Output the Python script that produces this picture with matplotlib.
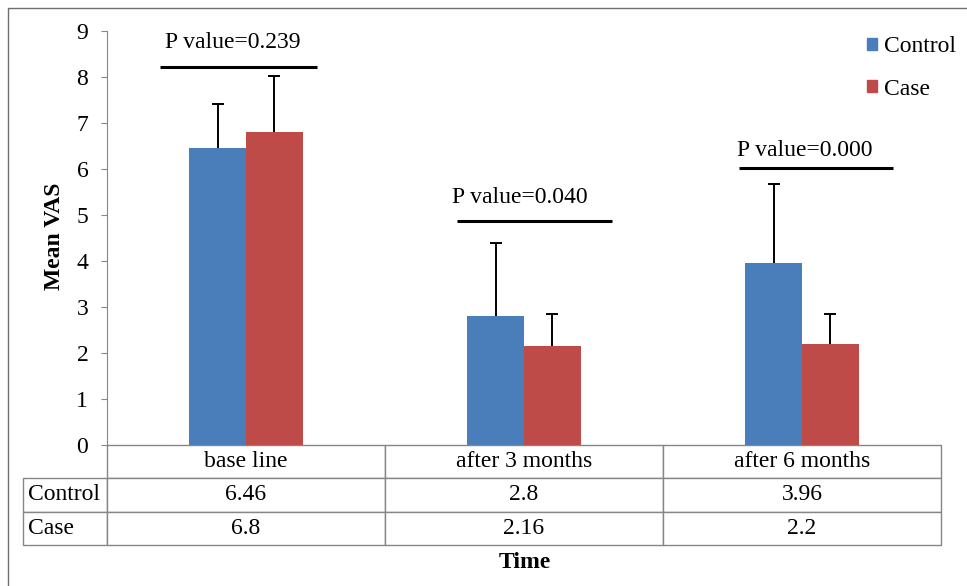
import matplotlib.pyplot as plt
import numpy as np
from matplotlib.table import Table
from matplotlib.patches import Rectangle

# data
categories = ['base line', 'after 3 months', 'after 6 months']
control = [6.46, 2.8, 3.96]
case = [6.8, 2.16, 2.2]
control_err = [0.95, 1.6, 1.71]
case_err = [1.22, 0.69, 0.65]
p_labels = ['P value=0.239', 'P value=0.040', 'P value=0.000']

# annotation placement (data coords): text x, text y, line x0, line x1, line y
p_text_x = [-0.29, 0.741, 1.766]
p_text_y = [8.76, 5.37, 6.41]
p_line_x = [(-0.309, 0.255), (0.759, 1.316), (1.773, 2.327)]
p_line_y = [8.22, 4.87, 6.02]

blue = '#4A7EBB'
red = '#BE4B48'
grid_gray = '#868686'

plt.rcParams['font.family'] = 'Liberation Serif'
fs = 17

fig = plt.figure(figsize=(9.67, 5.86), dpi=100)
ax = fig.add_axes([107 / 967, 1 - 445 / 586, 834 / 967, 414 / 586])

x = np.arange(len(categories))
w = 0.205
ax.bar(x - w / 2, control, w, color=blue, zorder=2)
ax.bar(x + w / 2, case, w, color=red, zorder=2)
for xs, vals, errs in [(x - w / 2, control, control_err), (x + w / 2, case, case_err)]:
    eb = ax.errorbar(xs, vals, yerr=[np.zeros(3), errs], fmt='none',
                     ecolor='black', elinewidth=1.4, capsize=4.5, capthick=1.4, zorder=3)
    eb[1][0].set_visible(False)  # hide lower caps

for lab, tx, ty, (lx0, lx1), ly in zip(p_labels, p_text_x, p_text_y, p_line_x, p_line_y):
    ax.text(tx, ty, lab, ha='left', va='center', fontsize=fs)
    ax.plot([lx0, lx1], [ly, ly], color='black', lw=2.2, solid_capstyle='butt')

ax.set_xlim(-0.5, 2.5)
ax.set_ylim(0, 9)
ax.set_yticks(range(0, 10))
ax.set_xticks([])
for s in ['top', 'right', 'bottom']:
    ax.spines[s].set_visible(False)
ax.spines['left'].set_color(grid_gray)
ax.tick_params(axis='y', colors=grid_gray, labelcolor='black', labelsize=fs,
               length=4.5, direction='out', pad=9)

# data table under the axes
tbl = Table(ax, bbox=[0, -100 / 414, 1, 100 / 414])
cw = 1 / 3
lw_ = 84 / 834
rh = 1 / 3
for j, c in enumerate(categories):
    tbl.add_cell(0, j, cw, rh, text=c, loc='center')
for i, (name, vals) in enumerate([('Control', control), ('Case', case)], start=1):
    tbl.add_cell(i, -1, lw_, rh, text=name, loc='left')
    for j, v in enumerate(vals):
        tbl.add_cell(i, j, cw, rh, text=f'{v:g}', loc='center')
tbl.auto_set_font_size(False)
tbl.set_fontsize(fs)
for (r, c), cell in tbl.get_celld().items():
    cell.set_edgecolor(grid_gray)
    cell.set_linewidth(1.0)
    cell.PAD = 0.06
ax.add_table(tbl)

# legend
handles = [Rectangle((0, 0), 1, 1, color=blue), Rectangle((0, 0), 1, 1, color=red)]
ax.legend(handles, ['Control', 'Case'], loc='upper left', frameon=False,
          bbox_to_anchor=(858 / 967, 1 - 27 / 586), bbox_transform=fig.transFigure,
          fontsize=fs, handlelength=0.4, handleheight=0.4, handletextpad=0.3,
          labelspacing=0.9, borderaxespad=0)

fig.text(54 / 967, 1 - 236 / 586, 'Mean VAS', rotation=90, ha='center', va='center',
         fontsize=fs, fontweight='bold')
fig.text(525 / 967, 1 - 563 / 586, 'Time', ha='center', va='center',
         fontsize=fs, fontweight='bold')

# outer frame (left and top edges visible)
fig.patches.append(Rectangle((8 / 967, -0.1), 1.2, 1.1 - 8 / 586, transform=fig.transFigure,
                             fill=False, edgecolor='#6E6E6E', lw=1.0))

fig.savefig('out.png', dpi=100)
